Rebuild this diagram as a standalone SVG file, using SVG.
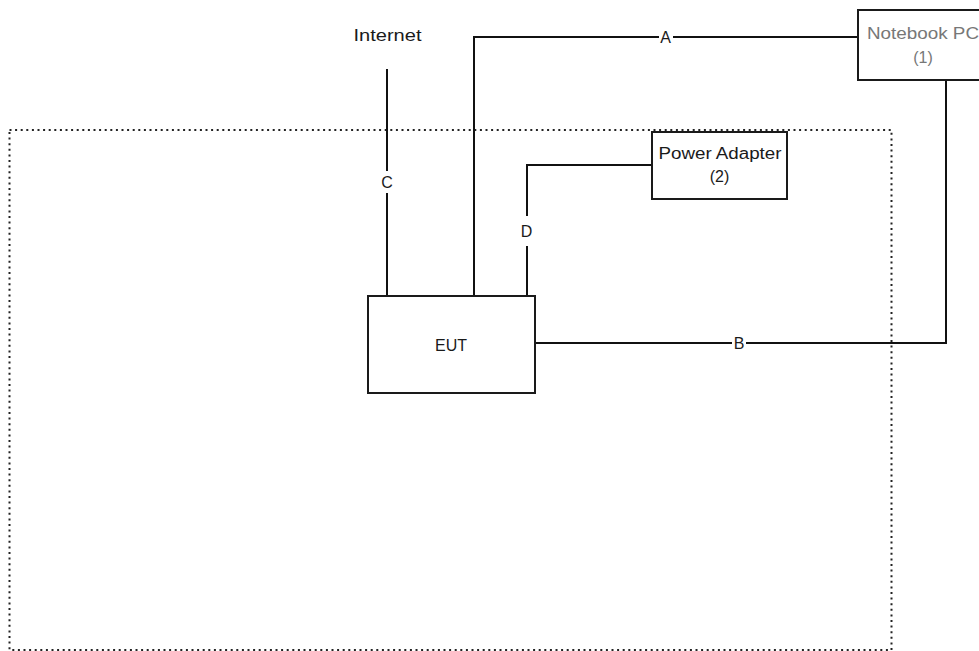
<svg xmlns="http://www.w3.org/2000/svg" width="979" height="651" viewBox="0 0 979 651">
<style>
.box{fill:#fff;stroke:#1a1a1a;stroke-width:2}
.ln{fill:none;stroke:#111;stroke-width:2}
.lbl{font-family:"Liberation Sans",Arial,sans-serif;font-size:16px;fill:#1a1a1a;text-anchor:middle}
.gray{fill:#777}
.bg{fill:#fff}
</style>
<rect width="979" height="651" fill="#fff"/>
<g id="boundary">
<rect x="9.5" y="130" width="882" height="520" fill="none" stroke="#222" stroke-width="2" stroke-dasharray="2 3.6"/>
</g>
<g id="connectors">
<path id="A" class="ln" d="M474,296 V37 H858"/>
<path id="B" class="ln" d="M536,343 H946 V80"/>
<path id="C" class="ln" d="M387,69 V296"/>
<path id="D" class="ln" d="M527,296 V165 H652"/>
<rect x="659" y="28" width="14" height="18" class="bg"/>
<text x="665.5" y="43" class="lbl">A</text>
<rect x="732" y="334" width="14" height="18" class="bg"/>
<text x="739" y="349" class="lbl">B</text>
<rect x="379" y="171" width="16" height="22" class="bg"/>
<text x="387" y="188" class="lbl">C</text>
<rect x="519" y="216" width="16" height="30" class="bg"/>
<text x="526.5" y="237" class="lbl">D</text>
</g>
<g id="internet">
<text x="387.5" y="41" class="lbl" font-size="17" textLength="68" lengthAdjust="spacingAndGlyphs">Internet</text>
</g>
<g id="notebook">
<rect x="858" y="10" width="130" height="70" class="box"/>
<text x="923" y="39" class="lbl gray" textLength="112" lengthAdjust="spacingAndGlyphs">Notebook PC</text>
<text x="923" y="63" class="lbl gray">(1)</text>
</g>
<g id="power-adapter">
<rect x="652" y="132" width="135" height="67" class="box"/>
<text x="720" y="159" class="lbl" font-size="15" textLength="123" lengthAdjust="spacingAndGlyphs">Power Adapter</text>
<text x="719.5" y="182" class="lbl">(2)</text>
</g>
<g id="eut">
<rect x="368" y="296" width="167" height="97" class="box"/>
<text x="451" y="351" class="lbl" font-size="18">EUT</text>
</g>
</svg>
